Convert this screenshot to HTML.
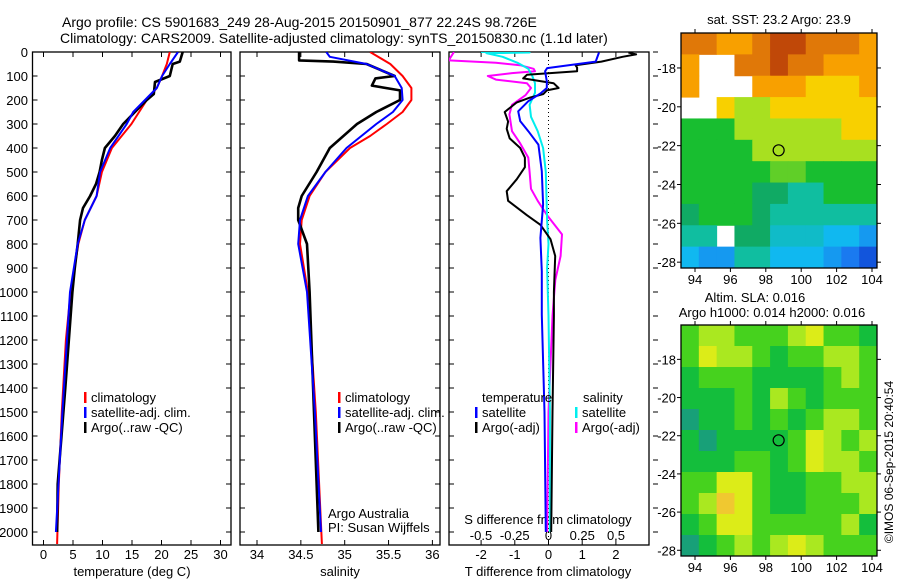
<!DOCTYPE html>
<html><head><meta charset="utf-8"><style>
html,body{margin:0;padding:0;background:#fff;}
svg{display:block;font-family:"Liberation Sans",sans-serif;}
</style></head><body>
<svg id="fig" width="900" height="580" viewBox="0 0 900 580" xmlns="http://www.w3.org/2000/svg">
<rect width="900" height="580" fill="#fff"/>
<text x="62" y="27" font-size="14">Argo profile: CS 5901683_249 28-Aug-2015 20150901_877 22.24S 98.726E</text>
<text x="60" y="43" font-size="14">Climatology: CARS2009. Satellite-adjusted climatology: synTS_20150830.nc (1.1d later)</text>
<g id="g"></g>
</svg>
<script>
// ---------- data ----------
const tClimD=[0,50,100,150,200,300,400,500,600,700,800,1000,1200,1500,1800,2050];
const tClimV=[21.4,20.9,20.1,19.2,17.5,14.9,11.6,9.9,9.0,7.0,5.9,4.6,3.8,3.1,2.6,2.3];
const tSatD=[0,50,100,150,200,250,300,400,500,600,700,800,1000,1500,2000];
const tSatV=[22.8,21.4,20.1,19.2,17.2,15.2,14.1,11.3,9.6,9.0,7.0,5.8,4.5,3.2,2.1];
const tArgD=[0,40,50,100,125,175,200,250,300,350,400,450,500,550,600,650,700,800,900,1000,1400,1800,2000];
const tArgV=[23.6,23.1,21.9,21.4,18.9,18.7,17.5,15.5,13.5,12.1,10.4,9.9,9.5,8.9,7.9,6.7,6.2,5.8,5.3,4.9,3.7,2.4,2.3];
const sClimD=[0,50,100,150,200,250,300,350,400,500,600,700,800,1000,1500,2050];
const sClimV=[35.29,35.52,35.66,35.76,35.76,35.66,35.48,35.29,35.06,34.78,34.60,34.51,34.49,34.58,34.67,34.74];
const sSatD=[0,20,50,100,150,200,250,300,400,500,600,700,800,900,1000,1500,2000];
const sSatV=[34.79,34.83,35.25,35.57,35.65,35.66,35.55,35.36,35.02,34.78,34.58,34.49,34.47,34.52,34.57,34.66,34.73];
const sArgD=[0,35,40,50,100,110,140,160,200,250,300,400,500,600,650,700,800,1000,1400,2000];
const sArgV=[34.48,34.48,34.87,35.25,35.57,35.35,35.31,35.63,35.63,35.36,35.14,34.83,34.68,34.51,34.47,34.47,34.57,34.60,34.64,34.70];
const dTSatD=[2,40,67,80,122,150,173,205,247,288,330,386,497,636,775,914,1094,1500,2000];
const dTSatV=[1.5,1.4,-0.04,-0.1,-0.05,-0.05,-0.24,-0.6,-0.9,-0.84,-0.6,-0.3,-0.2,-0.16,-0.24,-0.2,-0.2,-0.12,-0.08];
const dTArgD=[2,10,20,40,55,65,80,95,110,130,150,160,175,190,210,250,290,320,360,400,440,480,530,580,620,680,720,780,850,1000,1100,1500,2000];
const dTArgV=[2.37,2.6,2.2,1.57,0.8,0.85,0.85,-0.64,-0.75,0.15,0.3,-0.05,-0.15,-0.55,-0.94,-1.3,-1.2,-1.24,-1.15,-0.84,-0.7,-0.7,-0.94,-1.24,-1.2,-0.64,-0.24,0.06,0.2,0.16,0.16,0.12,0.08];
const dSSatD=[0,2,5,20,45,70,100,130,170,220,270,330,400,500,700,800,900,1100,1500,2000];
const dSSatV=[-0.5,-0.14,-0.46,-0.34,-0.23,-0.15,-0.12,-0.1,-0.1,-0.14,-0.13,-0.08,-0.04,-0.02,-0.01,0,-0.01,0,0.01,0.01];
const dSArgD=[0,35,45,55,70,80,88,100,115,130,150,180,220,260,330,380,440,500,570,620,680,760,850,950,1100,1500,2000];
const dSArgV=[-0.7,-0.74,-0.39,-0.21,-0.11,-0.1,-0.27,-0.45,-0.39,-0.16,-0.13,-0.17,-0.27,-0.29,-0.27,-0.21,-0.15,-0.14,-0.13,-0.08,-0.01,0.1,0.09,0.05,0.03,0.0,-0.01];
const depthTicks=[0,100,200,300,400,500,600,700,800,900,1000,1100,1200,1300,1400,1500,1600,1700,1800,1900,2000];
const tTicks=[0,5,10,15,20,25,30];
const sTicks=[34,34.5,35,35.5,36];
const sTickLabels=["34","34.5","35","35.5","36"];
const dTTicks=[-2,-1,0,1,2];
const dSTicks=[-0.5,-0.25,0,0.25,0.5];
const sstGrid=[
[8,8,7,7,8,9,9,8,8,8,7],
[7,null,null,8,8,9,8,8,7,7,7],
[7,null,null,null,7,7,7,6,6,6,7],
[null,null,6,5,5,6,6,6,6,6,6],
[4,4,4,5,5,5,5,5,5,6,6],
[4,4,4,4,5,5,5,5,5,5,5],
[4,4,4,4,4,4.5,4.5,4,4,4,4],
[4,4,4,4,3.5,3.5,3,3,4,4,4],
[3.5,4,4,4,3.5,3,3,3,3,3,3],
[3,3,null,3.5,3.5,2.5,2.5,2.5,2,2,1.5],
[2,1.5,1.5,3,3,2,2,2,1.5,1,0.5]];
const slaGrid=[
[2,3,3,2,2,2,3,4,2,2,1],
[2,4,3,3,2,1,2,2,3,3,2],
[1,2,2,2,1,1,1,1,2,3,2],
[1,1,1,2,1,3,2,1,2,2,2],
[0,1,1,2,1,2,1,2,3,3,2],
[1,0,1,1,1,1,2,4,3,2,3],
[1,1,1,2,2,1,2,4,3,3,2],
[2,2,4,4,2,1,1,2,2,3,3],
[2,3,5,4,2,1,1,2,2,2,3],
[1,2,4,4,2,2,2,2,2,3,1],
[0,1,2,3,2,3,4,3,2,2,2]];
const lonTicks=[94,96,98,100,102,104];
const latTicks=[-18,-20,-22,-24,-26,-28];
const argoLon=98.726, argoLat=-22.24;

// ---------- helpers ----------
const NS="http://www.w3.org/2000/svg";
const G=document.getElementById('g');
function mk(tag,at,parent){const e=document.createElementNS(NS,tag);for(const k in at)e.setAttribute(k,at[k]);(parent||G).appendChild(e);return e;}
const yD=d=>52+d*0.24;
const pTop=52,pBot=545;
const panels=[{l:32.5,r:231},{l:240,r:440},{l:449,r:649}];
const xT=t=>43.5+5.9*t;
const xS=s=>257+87.7*(s-34);
const xDT=t=>548.5+33.7*t;
const xDS=s=>548.5+135*s;

panels.forEach((p,i)=>{
  const f=mk('rect',{x:p.l,y:pTop,width:p.r-p.l,height:pBot-pTop,fill:'none',stroke:'#000','stroke-width':1.3});
  
  
  depthTicks.forEach(d=>{
    mk('line',{x1:p.l,x2:p.l+5,y1:yD(d),y2:yD(d),stroke:'#000'});
    if(i<2) mk('line',{x1:p.r-5,x2:p.r,y1:yD(d),y2:yD(d),stroke:'#000'});
    else mk('line',{x1:p.r+4,x2:p.r+9,y1:yD(d),y2:yD(d),stroke:'#000'});
  });
});
depthTicks.forEach(d=>{
  const t=mk('text',{x:28,y:yD(d)+5,'font-size':13,'text-anchor':'end'});
  t.textContent=d;
  
  
});
function xticks(vals,labels,fx,y,name){
  vals.forEach((v,i)=>{
    const x=fx(v);
    mk('line',{x1:x,x2:x,y1:pBot,y2:pBot-5,stroke:'#000'});
    mk('line',{x1:x,x2:x,y1:pTop,y2:pTop+5,stroke:'#000'});
    const t=mk('text',{x:x,y:y,'font-size':13,'text-anchor':'middle'});
    t.textContent=labels[i];
    
    
  });
}
xticks(tTicks,tTicks.map(String),xT,559,'temperature-tick-label');
xticks(sTicks,sTickLabels,xS,559,'salinity-tick-label');
xticks(dTTicks,dTTicks.map(String),xDT,559,'t-diff-tick-label');
dSTicks.forEach(v=>{
  const t=mk('text',{x:xDS(v),y:540,'font-size':13,'text-anchor':'middle'});
  t.textContent=String(v);
  
  
});
function label(x,y,s,name,anchor){const t=mk('text',{x:x,y:y,'font-size':13,'text-anchor':anchor||'middle'});t.textContent=s;return t;}
label(132,576,'temperature (deg C)','temperature-axis-title');
label(340,576,'salinity','salinity-axis-title');
label(548,576,'T difference from climatology','t-diff-axis-title');
label(548,524,'S difference from climatology','s-diff-axis-title');
label(328,518,'Argo Australia','argo-australia-note','start');
label(328,532,'PI: Susan Wijffels','pi-note','start');

const zl=mk('line',{x1:xDT(0),x2:xDT(0),y1:pTop,y2:pBot,stroke:'#000','stroke-dasharray':'1,3'});



const defs=mk('defs',{});
panels.forEach((p,i)=>{const c=mk('clipPath',{id:'c'+i},defs);mk('rect',{x:p.l,y:pTop,width:p.r-p.l,height:pBot-pTop},c);});
function series(D,V,fx,color,w,name,clip){
  const pts=D.map((d,i)=>fx(V[i]).toFixed(1)+','+Math.min(yD(d),pBot).toFixed(1)).join(' ');
  const pl=mk('polyline',{points:pts,fill:'none',stroke:color,'stroke-width':w,'stroke-linejoin':'round','clip-path':'url(#'+clip+')'});
  
  
}
series(tClimD,tClimV,xT,'#f00',2,'temp-climatology-line','c0');
series(tArgD,tArgV,xT,'#000',2.6,'temp-argo-line','c0');
series(tSatD,tSatV,xT,'#00f',2,'temp-satellite-line','c0');
series(sClimD,sClimV,xS,'#f00',2,'sal-climatology-line','c1');
series(sArgD,sArgV,xS,'#000',2.6,'sal-argo-line','c1');
series(sSatD,sSatV,xS,'#00f',2,'sal-satellite-line','c1');
series(dSArgD,dSArgV,xDS,'#f0f',2,'s-diff-argo-line','c2');
series(dSSatD,dSSatV,xDS,'#0ee',2,'s-diff-satellite-line','c2');
series(dTArgD,dTArgV,xDT,'#000',2,'t-diff-argo-line','c2');
series(dTSatD,dTSatV,xDT,'#00f',2,'t-diff-satellite-line','c2');

function legend(x,y,color,text,name){
  mk('rect',{x:x,y:y-10,width:2.5,height:11,fill:color});
  label(x+7,y,text,name,'start');
}
legend(84,402,'#f00','climatology','legend-climatology');
legend(84,417,'#00f','satellite-adj. clim.','legend-satellite-adj');
legend(84,432,'#000','Argo(..raw -QC)','legend-argo');
legend(338,402,'#f00','climatology','legend-climatology-2');
legend(338,417,'#00f','satellite-adj. clim.','legend-satellite-adj-2');
legend(338,432,'#000','Argo(..raw -QC)','legend-argo-2');
label(482,402,'temperature','legend-temperature-header','start');
legend(475,417,'#00f','satellite','legend-t-satellite');
legend(475,432,'#000','Argo(-adj)','legend-t-argo');
label(583,402,'salinity','legend-salinity-header','start');
legend(575,417,'#0ee','satellite','legend-s-satellite');
legend(575,432,'#f0f','Argo(-adj)','legend-s-argo');

// ---------- maps ----------
function interp(stops,v){
  if(v<=stops[0][0])return 'rgb('+stops[0][1].join(',')+')';
  for(let i=1;i<stops.length;i++){if(v<=stops[i][0]){const a=stops[i-1],b=stops[i],f=(v-a[0])/(b[0]-a[0]);
    const c=a[1].map((x,k)=>Math.round(x+(b[1][k]-x)*f));return 'rgb('+c.join(',')+')';}}
  return 'rgb('+stops[stops.length-1][1].join(',')+')';
}
const sstStops=[[0,[10,47,200]],[1,[26,122,240]],[2,[16,184,240]],[3,[16,190,160]],[3.5,[16,170,100]],[4,[24,190,48]],[5,[168,224,32]],[6,[248,208,0]],[7,[248,160,0]],[8,[224,120,8]],[9,[192,72,8]]];
const slaStops=[[0,[24,160,120]],[1,[20,190,60]],[2,[70,210,30]],[3,[170,232,32]],[4,[220,236,24]],[5,[240,200,48]]];
function drawMap(grid,stops,x0,x1,y0,y1,name){
  const lonX=lo=>695+(lo-94)*17.7;
  const k=(y1-y0)/12.1;
  const latY=la=>y0+(-16.2-la)*k;
  const nr=grid.length,nc=grid[0].length,cw=(x1-x0)/nc,ch=(y1-y0)/nr;
  const gm=mk('g',{});
  
  
  grid.forEach((row,r)=>row.forEach((v,c)=>{
    if(v===null)return;
    const cell=mk('rect',{x:x0+c*cw,y:y0+r*ch,width:cw+0.5,height:ch+0.5,fill:interp(stops,v)},gm);
    
    
  }));
  mk('rect',{x:x0,y:y0,width:x1-x0,height:y1-y0,fill:'none',stroke:'#000','stroke-width':1.3});
  lonTicks.forEach(lo=>{const x=lonX(lo);mk('line',{x1:x,x2:x,y1:y1,y2:y1+4,stroke:'#000'});mk('line',{x1:x,x2:x,y1:y0,y2:y0-4,stroke:'#000'});
    label(x,y1+16,String(lo),'lon-tick-label');});
  latTicks.forEach(la=>{const y=latY(la);mk('line',{x1:x0-4,x2:x0,y1:y,y2:y,stroke:'#000'});mk('line',{x1:x1,x2:x1+4,y1:y,y2:y,stroke:'#000'});
    label(x0-5,y+5,String(la),'lat-tick-label','end');});
  const m=mk('circle',{cx:lonX(argoLon),cy:latY(argoLat),r:5.5,fill:'none',stroke:'#000','stroke-width':1.2});
  
  
}
drawMap(sstGrid,sstStops,681,877,33,268,'sst-map');
drawMap(slaGrid,slaStops,681,877,325,556,'sla-map');
label(779,24,'sat. SST: 23.2  Argo: 23.9','sst-map-title');
label(755,302,'Altim. SLA: 0.016','sla-map-title');
label(772,317,'Argo h1000: 0.014  h2000: 0.016','argo-height-title');
const cr=mk('text',{x:0,y:0,'font-size':12,'text-anchor':'middle',transform:'translate(893,462) rotate(-90)'});
cr.textContent='©IMOS 06-Sep-2015 20:40:54';


</script>
</body></html>
